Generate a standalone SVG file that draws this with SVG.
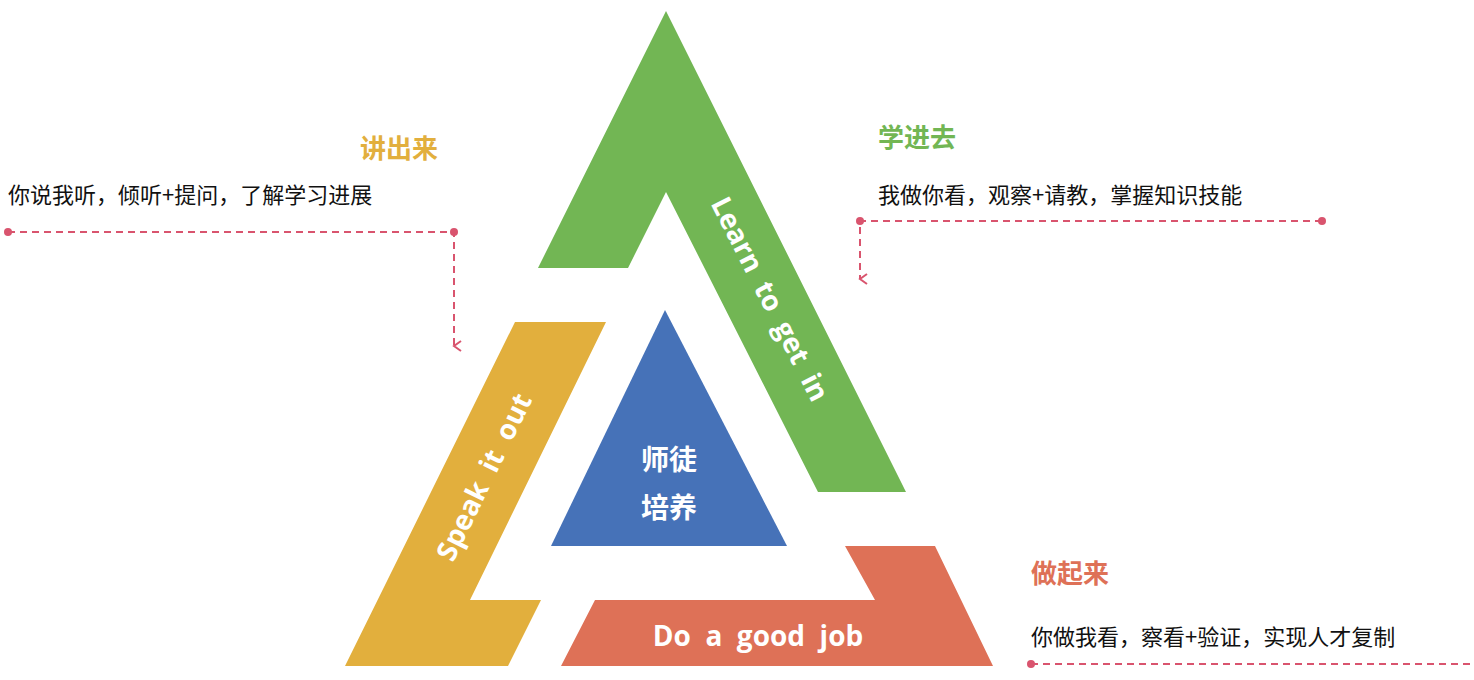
<svg xmlns="http://www.w3.org/2000/svg" width="1474" height="680" viewBox="0 0 1474 680">
<style>
.w{fill:#fff;font-family:"Open Sans","Noto Sans CJK SC",sans-serif;font-weight:bold;font-size:28px}
.h{font-family:"Noto Sans CJK SC",sans-serif;font-weight:bold;font-size:26px}
.d{font-family:"Noto Sans CJK SC",sans-serif;font-size:22px;fill:#111}
.c{stroke:#d9546e;stroke-width:2;stroke-dasharray:7 5;fill:none}
.p{fill:#d9546e}
</style>
<defs><marker id="a" markerWidth="12" markerHeight="12" refX="6" refY="10" orient="auto" markerUnits="userSpaceOnUse" viewBox="0 0 12 12"><path d="M1,3 L6,10 L11,3" fill="none" stroke="#d9546e" stroke-width="2"/></marker></defs>
<rect width="1474" height="680" fill="#fff"/>
<g id="learn"><polygon points="666,11 906,492 818,492 666,192 628,268 538,268" fill="#72b654"/><text class="w" transform="translate(768,300) rotate(63)" text-anchor="middle" dominant-baseline="middle" xml:space="preserve">Learn  to  get  in</text></g>
<g id="speak"><polygon points="515,322 606,322 470,600 541,600 508,666 345,666" fill="#e2af3d"/><text class="w" transform="translate(486,478) rotate(-64)" text-anchor="middle" dominant-baseline="middle" xml:space="preserve">Speak  it  out</text></g>
<g id="do"><polygon points="845,546 935,546 993,666 561,666 595,600 875,600" fill="#de7157"/><text class="w" x="758" y="646" text-anchor="middle" xml:space="preserve">Do  a  good  job</text></g>
<g id="center"><polygon points="665,310 787,546 551,546" fill="#4672b8"/><text class="w" font-size="34" x="669" y="470" text-anchor="middle">师徒</text><text class="w" font-size="34" x="669" y="518" text-anchor="middle">培养</text></g>
<g id="t1"><text class="h" x="438" y="158" text-anchor="end" fill="#e2af3d">讲出来</text><text class="d" x="8" y="203">你说我听，倾听+提问，了解学习进展</text></g>
<g id="t2"><text class="h" x="878" y="147" fill="#72b654">学进去</text><text class="d" x="878" y="203">我做你看，观察+请教，掌握知识技能</text></g>
<g id="t3"><text class="h" x="1031" y="583" fill="#de7157">做起来</text><text class="d" x="1031" y="645">你做我看，察看+验证，实现人才复制</text></g>
<g id="connectors">
<path class="c" d="M8,232 H454 V346" marker-end="url(#a)"/><circle class="p" cx="8" cy="232" r="4"/><circle class="p" cx="454" cy="232" r="4"/>
<path class="c" d="M1322,221 H860 V279" marker-end="url(#a)"/><circle class="p" cx="1322" cy="221" r="4"/><circle class="p" cx="860" cy="221" r="4"/>
<path class="c" d="M1031,664 H1474"/><circle class="p" cx="1031" cy="664" r="4"/>
</g>
</svg>
